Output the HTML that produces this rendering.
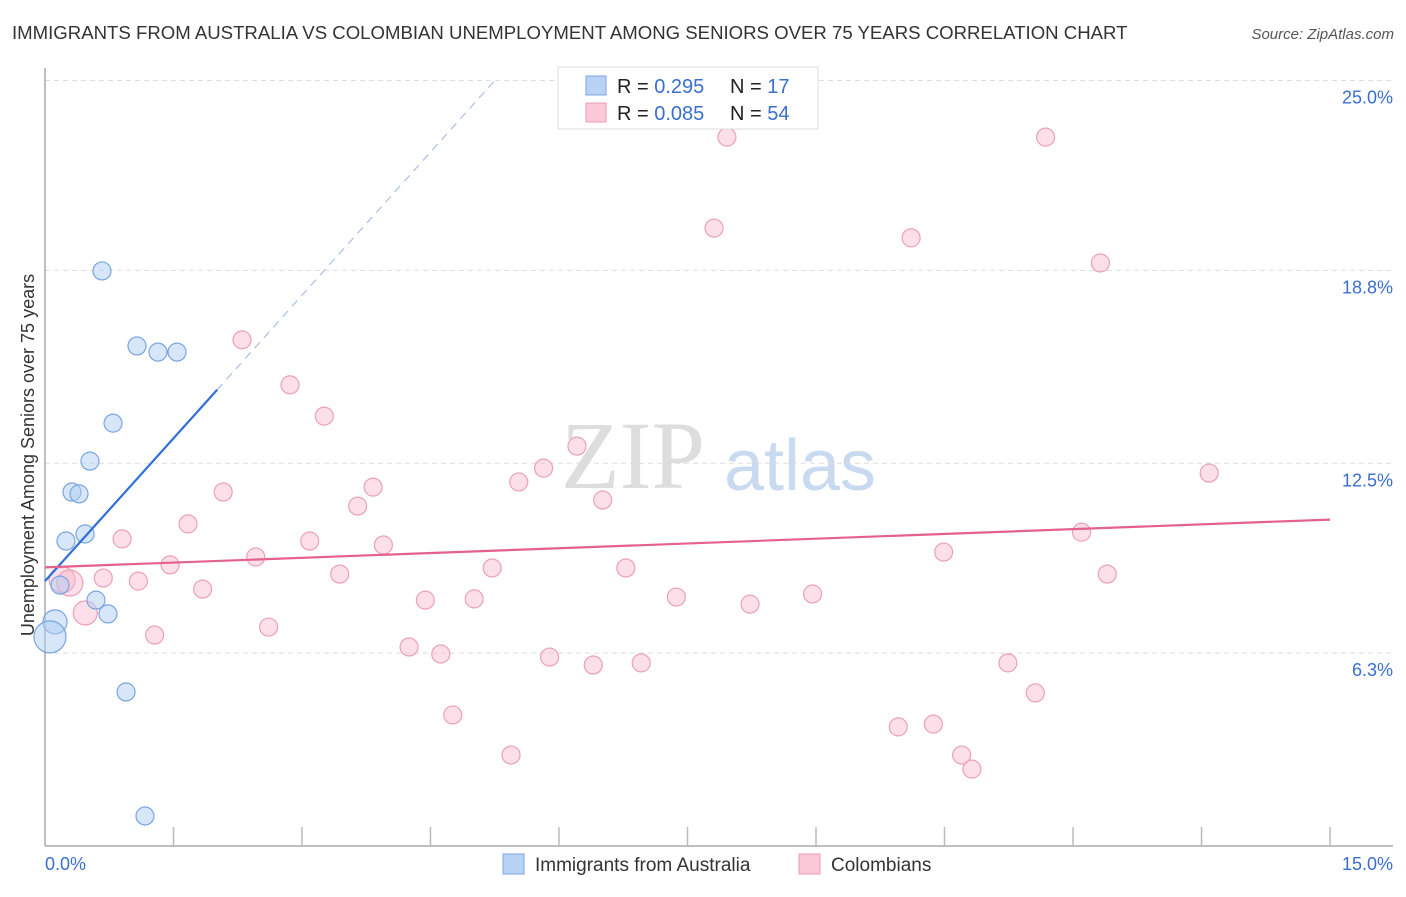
<!DOCTYPE html>
<html><head><meta charset="utf-8"><style>
body{margin:0;background:#fff;font-family:"Liberation Sans",sans-serif;}
</style></head><body>
<svg id="c" width="1406" height="892" xmlns="http://www.w3.org/2000/svg" font-family="Liberation Sans, sans-serif">
<text x="12" y="39" font-size="18.6" fill="#333">IMMIGRANTS FROM AUSTRALIA VS COLOMBIAN UNEMPLOYMENT AMONG SENIORS OVER 75 YEARS CORRELATION CHART</text>
<text x="1394" y="39" font-size="15" fill="#555" font-style="italic" text-anchor="end">Source: ZipAtlas.com</text>
<text x="633" y="488" font-size="96" fill="#ddd" font-family="Liberation Serif, serif" text-anchor="middle">ZIP</text>
<text x="800" y="490" font-size="72" fill="#c9daf0" text-anchor="middle">atlas</text>
<g id="grid"></g>
<g id="axes"></g>
<g id="pts"></g>
<g id="trend"></g>
<text transform="translate(34,455) rotate(-90)" font-size="18" fill="#333" text-anchor="middle">Unemployment Among Seniors over 75 years</text>
<g>
<rect x="558" y="67" width="260" height="62" fill="#fff" stroke="#ddd"/>
<rect x="586" y="76" width="20" height="19" fill="#b8d3f5" stroke="#7aa6e0"/>
<rect x="586" y="103" width="20" height="19" fill="#fbc9d8" stroke="#ec9bb4"/>
<text x="617" y="93" font-size="20" fill="#222">R = <tspan fill="#3a6fd0">0.295</tspan></text>
<text x="730" y="93" font-size="20" fill="#222">N = <tspan fill="#3a6fd0"> 17</tspan></text>
<text x="617" y="120" font-size="20" fill="#222">R = <tspan fill="#3a6fd0">0.085</tspan></text>
<text x="730" y="120" font-size="20" fill="#222">N = <tspan fill="#3a6fd0">54</tspan></text>
</g>
<g>
<rect x="503" y="854" width="21" height="20" fill="#b8d3f5" stroke="#7aa6e0"/>
<text x="535" y="871" font-size="19" fill="#333">Immigrants from Australia</text>
<rect x="799" y="854" width="21" height="20" fill="#fbc9d8" stroke="#ec9bb4"/>
<text x="831" y="871" font-size="19" fill="#333">Colombians</text>
</g>
</svg>
<script>
const yTicks=[6.3,12.5,18.8,25.0];
const yTickLabels=["6.3%","12.5%","18.8%","25.0%"];
const xTickCount=10;
const blueX=[0.665,1.074,1.319,1.541,0.794,0.525,0.315,0.397,0.245,0.467,0.175,0.595,0.735,0.117,0.058,0.946,1.167];
const blueY=[18.78,16.33,16.13,16.13,13.81,12.57,11.56,11.50,9.96,10.19,8.52,8.03,7.58,7.32,6.83,5.03,0.98];
const blueR=[9,9,9,9,9,9,9,9,9,9,9,9,9,12,16,9,9];
const pinkX=[7.96,11.68,7.81,10.11,12.32,2.30,2.86,3.26,6.21,5.82,5.53,13.59,2.08,3.83,6.51,3.65,1.67,12.10,0.90,3.09,3.95,10.49,2.46,1.46,5.22,6.78,3.44,12.40,0.68,1.09,0.20,0.29,1.84,4.44,5.01,7.37,8.96,8.23,0.47,1.28,2.61,4.25,4.62,5.89,6.40,6.96,11.24,11.56,4.76,9.96,10.37,10.70,5.44,10.82];
const pinkY=[23.15,23.15,20.18,19.86,19.04,16.53,15.06,14.04,13.06,12.34,11.89,12.18,11.56,11.72,11.30,11.10,10.52,10.25,10.03,9.96,9.83,9.60,9.44,9.18,9.08,9.08,8.88,8.88,8.75,8.65,8.69,8.59,8.39,8.03,8.07,8.13,8.23,7.90,7.61,6.89,7.15,6.50,6.27,6.17,5.91,5.98,5.98,5.00,4.28,3.89,3.98,2.97,2.97,2.51];
const pinkR=[9,9,9,9,9,9,9,9,9,9,9,9,9,9,9,9,9,9,9,9,9,9,9,9,9,9,9,9,9,9,13,13,9,9,9,9,9,9,12,9,9,9,9,9,9,9,9,9,9,9,9,9,9,9];
const blueTrend=[0,8.65,2.01,14.9];
const blueDash=[2.01,14.9,5.25,25.0];
const pinkTrend=[0,9.1,15,10.66];
const NS="http://www.w3.org/2000/svg";
const X=v=>45+v/15*1285, Y=v=>846-v/25*765.5;
function mk(p,t,a){const e=document.createElementNS(NS,t);for(const k in a)e.setAttribute(k,a[k]);p.appendChild(e);return e;}
const grid=document.getElementById('grid'),axes=document.getElementById('axes'),pts=document.getElementById('pts'),tr=document.getElementById('trend');
yTicks.forEach((t,i)=>{
 const l=mk(grid,'line',{x1:45,x2:1393,y1:Y(t),y2:Y(t),stroke:'#ddd','stroke-dasharray':'5,4'});
 
 
 const tx=mk(grid,'text',{x:1393,y:Y(t)+23,'font-size':18,fill:'#3a6fd0','text-anchor':'end'});tx.textContent=yTickLabels[i];
 
 
});
let a=mk(axes,'line',{x1:45,x2:45,y1:68,y2:846,stroke:'#aaa','stroke-width':1.5});


a=mk(axes,'line',{x1:45,x2:1393,y1:846,y2:846,stroke:'#aaa','stroke-width':1.5});


for(let i=1;i<=xTickCount;i++){const x=X(i*1.5);const t=mk(axes,'line',{x1:x,x2:x,y1:827,y2:846,stroke:'#bbb','stroke-width':1.5});
 
 }
let t1=mk(axes,'text',{x:45,y:870,'font-size':18,fill:'#3a6fd0'});t1.textContent='0.0%';


t1=mk(axes,'text',{x:1393,y:870,'font-size':18,fill:'#3a6fd0','text-anchor':'end'});t1.textContent='15.0%';


pinkX.forEach((v,i)=>{const c=mk(pts,'circle',{cx:X(v),cy:Y(pinkY[i]),r:pinkR[i],fill:'rgba(248,184,204,0.45)',stroke:'#eca0b8','stroke-width':1.2});
 
 });
blueX.forEach((v,i)=>{const c=mk(pts,'circle',{cx:X(v),cy:Y(blueY[i]),r:blueR[i],fill:'rgba(176,206,244,0.5)',stroke:'#79a5e2','stroke-width':1.2});
 
 });
let l=mk(tr,'line',{x1:X(blueTrend[0]),y1:Y(blueTrend[1]),x2:X(blueTrend[2]),y2:Y(blueTrend[3]),stroke:'#2f6fd8','stroke-width':2.2});


l=mk(tr,'line',{x1:X(blueDash[0]),y1:Y(blueDash[1]),x2:X(blueDash[2]),y2:Y(blueDash[3]),stroke:'#a9c0e6','stroke-width':1.2,'stroke-dasharray':'8,6'});


l=mk(tr,'line',{x1:X(pinkTrend[0]),y1:Y(pinkTrend[1]),x2:X(pinkTrend[2]),y2:Y(pinkTrend[3]),stroke:'#e5608c','stroke-width':2.2});


</script>
</body></html>
